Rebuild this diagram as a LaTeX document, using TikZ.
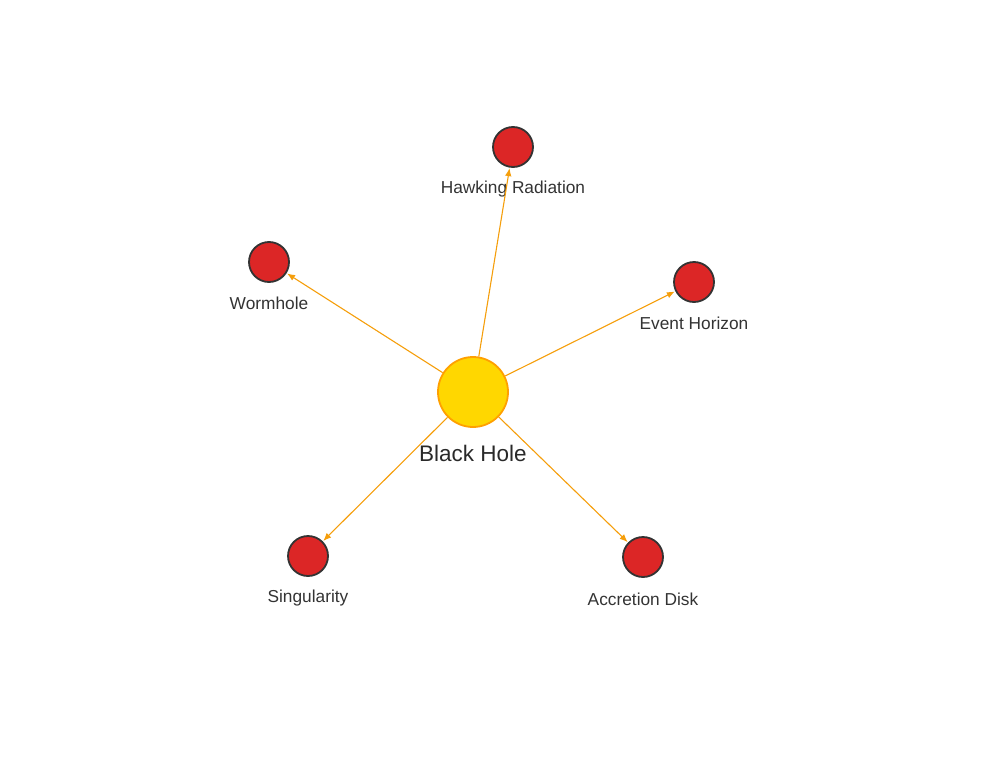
\documentclass[tikz,border=0pt]{standalone}
\usepackage{fontspec}
\setmainfont{Liberation Sans}
\usetikzlibrary{arrows.meta}
\definecolor{hubfill}{HTML}{FFD700}
\definecolor{hubline}{HTML}{FFA000}
\definecolor{leaffill}{HTML}{DC2626}
\definecolor{leafline}{HTML}{333333}
\definecolor{edgecol}{HTML}{F59E0B}
\definecolor{txt}{HTML}{333333}
\tikzset{
  hub/.style={circle, fill=hubfill, draw=hubline, line width=1.8pt, minimum size=70pt, inner sep=0pt},
  leaf/.style={circle, fill=leaffill, draw=leafline, line width=1.8pt, minimum size=40pt, inner sep=0pt},
  leaflabel/.style={text=txt, font=\fontsize{17.3}{20}\selectfont, inner sep=0pt},
  hublabel/.style={text=txt!80!black, font=\fontsize{22.5}{26}\selectfont, inner sep=0pt},
  link/.style={draw=edgecol, line width=1.1pt, -{Latex[length=8pt,width=6.5pt]}, shorten >=0.5pt}
}
\begin{document}
\begin{tikzpicture}[x=1pt,y=-1pt]
\useasboundingbox (0,0) rectangle (982,760);
\node[hub] (bh) at (473,392) {};
\node[hublabel] (bhl) at (473,453) {Black Hole};
\node[leaf] (hr) at (513,147) {};
\node[leaflabel] (hrl) at (513,189) {Hawking Radiation};
\node[leaf] (wh) at (269,262) {};
\node[leaflabel] (whl) at (269,303.5) {Wormhole};
\node[leaf] (eh) at (694,282) {};
\node[leaflabel] (ehl) at (694,323.5) {Event Horizon};
\node[leaf] (sg) at (308,556) {};
\node[leaflabel] (sgl) at (308,598) {Singularity};
\node[leaf] (ad) at (643,557) {};
\node[leaflabel] (adl) at (643,599.5) {Accretion Disk};
\foreach \t in {hr,wh,eh,sg,ad} \draw[link] (bh) -- (\t);
\end{tikzpicture}
\end{document}
